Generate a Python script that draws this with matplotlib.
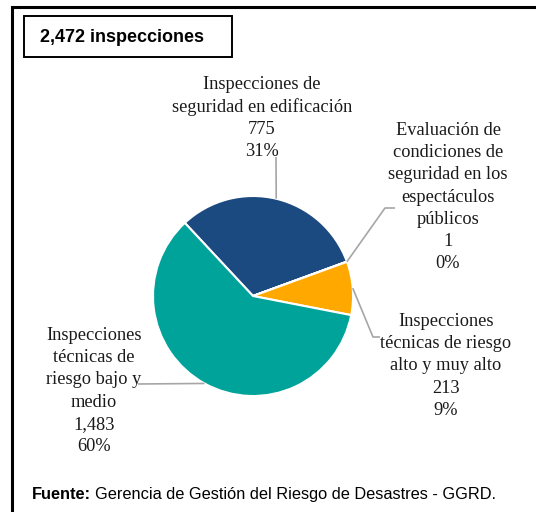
import numpy as np
import matplotlib.pyplot as plt
from matplotlib.patches import Rectangle

W, H = 536, 512  # figure size in pixels

# Chart data
categories = ["Inspecciones de\nseguridad en edificación",
              "Evaluación de\ncondiciones de\nseguridad en los\nespectáculos\npúblicos",
              "Inspecciones\ntécnicas de riesgo\nalto y muy alto",
              "Inspecciones\ntécnicas de\nriesgo bajo y\nmedio"]
values = [775, 1, 213, 1483]
colors = ["#1B4A80", "#A5A5A5", "#FFA800", "#00A39A"]
total_label = "2,472 inspecciones"
source_bold = "Fuente:"
source_text = "Gerencia de Gestión del Riesgo de Desastres - GGRD."

# Layout (pixels from top-left corner)
pie_center = (253, 296)
pie_radius = 100
explode = [0, 0, 0.05, 0]
label_pos = [(262, 118), (448, 197), (446, 366), (94, 391)]
leader_pts = [[(276, 157)],
              [(385, 208), (395, 208)],
              [(373, 337), (380, 337)],
              [(138, 384)]]


def flip(y):
    return H - y


fig = plt.figure(figsize=(W / 100, H / 100), dpi=100)
ax = fig.add_axes([0, 0, 1, 1])

wedges, _ = ax.pie(values, colors=colors, explode=explode, startangle=133,
                   counterclock=False, radius=pie_radius,
                   center=(pie_center[0], flip(pie_center[1])),
                   wedgeprops=dict(edgecolor="white", linewidth=1.5))

total = sum(values)
for i, w in enumerate(wedges):
    mid = np.deg2rad((w.theta1 + w.theta2) / 2)
    cx, cy = w.center
    x0 = cx + pie_radius * np.cos(mid)
    y0 = cy + pie_radius * np.sin(mid)
    xs = [x0] + [p[0] for p in leader_pts[i]]
    ys = [y0] + [flip(p[1]) for p in leader_pts[i]]
    ax.plot(xs, ys, color="#A6A6A6", lw=1.2, solid_capstyle="butt")
    pct = round(values[i] / total * 100)
    txt = f"{categories[i]}\n{values[i]:,}\n{pct}%"
    ax.text(label_pos[i][0], flip(label_pos[i][1]), txt, ha="center", va="center",
            family="Liberation Serif", fontsize=13.2, linespacing=1.4,
            multialignment="center", color="#1a1a1a")

# outer frame (top and left edges)
ax.plot([12, 12, W], [0, flip(7), flip(7)], color="black", lw=2.2,
        solid_joinstyle="miter")

# title box
ax.add_patch(Rectangle((24, flip(57)), 208, 41, fill=False, edgecolor="black", lw=1.4))
ax.text(40, flip(38), total_label, ha="left", va="center", family="Liberation Sans",
        fontweight="bold", fontsize=13)

# source note: bold prefix, then the rest on the same baseline
ax.set_xlim(0, W)
ax.set_ylim(0, H)
t1 = ax.text(32, flip(499), source_bold, ha="left", va="baseline",
             family="Liberation Sans", fontweight="bold", fontsize=11.8)
fig.canvas.draw()
bb = t1.get_window_extent()
ax.text(bb.x1 + 4, flip(499), source_text, ha="left", va="baseline",
        family="Liberation Sans", fontsize=11.75)

ax.set_aspect("auto")
ax.axis("off")

fig.savefig("out.png", dpi=100)
